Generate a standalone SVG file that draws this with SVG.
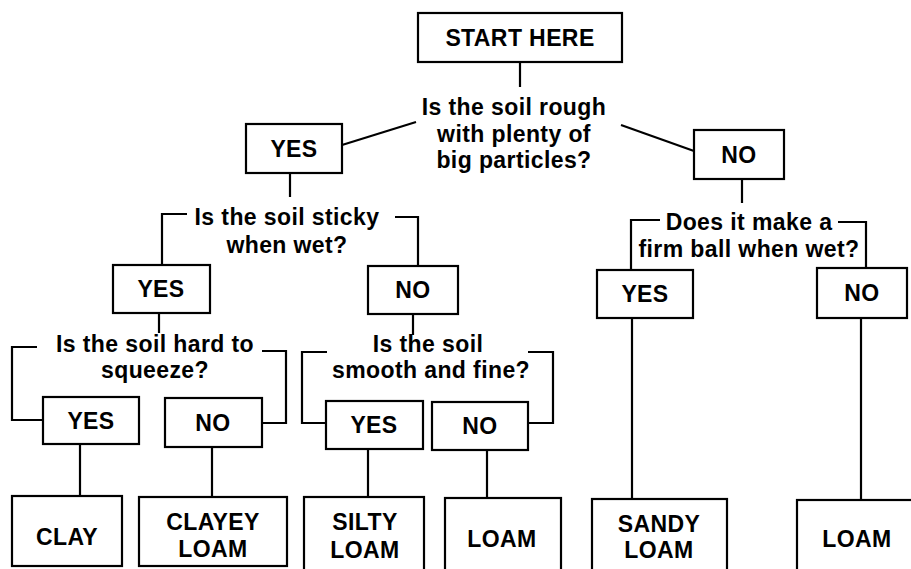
<svg xmlns="http://www.w3.org/2000/svg" width="911" height="569" viewBox="0 0 911 569">
<style>
.box{fill:#fff;stroke:#000;stroke-width:2.2}
.ln{fill:none;stroke:#000;stroke-width:2.2}
text{font-family:"Liberation Sans",Arial,sans-serif;font-weight:bold;font-size:23px;letter-spacing:0.4px;fill:#000;text-anchor:middle}
</style>
<rect width="911" height="569" fill="#fff"/>
<g id="connectors">
<path class="ln" d="M520 62V87"/>
<path class="ln" d="M342 145L416 122"/>
<path class="ln" d="M621 125L694 151"/>
<path class="ln" d="M290 173V197"/>
<path class="ln" d="M742 179V203"/>
<path class="ln" d="M187 214H162V265"/>
<path class="ln" d="M395 217H418V266"/>
<path class="ln" d="M660 220H631V270"/>
<path class="ln" d="M838 222H866V268"/>
<path class="ln" d="M159 313V333"/>
<path class="ln" d="M413 314V335"/>
<path class="ln" d="M37 347H12V420H43"/>
<path class="ln" d="M262 351H286V423H262"/>
<path class="ln" d="M327 352H302V423H326"/>
<path class="ln" d="M528 352H553V423H528"/>
<path class="ln" d="M80 444V496"/>
<path class="ln" d="M212 447V497"/>
<path class="ln" d="M368 449V497"/>
<path class="ln" d="M487 450V498"/>
<path class="ln" d="M632 318V499"/>
<path class="ln" d="M861 318V500"/>
</g>
<g id="start"><rect class="box" x="418" y="13" width="204" height="49"/><text x="520" y="46">START HERE</text></g>
<g id="q1"><text x="514" y="115">Is the soil rough</text><text x="514" y="142">with plenty of</text><text x="514" y="168">big particles?</text></g>
<g id="yes1"><rect class="box" x="246" y="124" width="96" height="49"/><text x="294" y="157">YES</text></g>
<g id="no1"><rect class="box" x="694" y="130" width="90" height="49"/><text x="739" y="163">NO</text></g>
<g id="q2"><text x="287" y="225">Is the soil sticky</text><text x="287" y="253">when wet?</text></g>
<g id="q5"><text x="749" y="230">Does it make a</text><text x="749" y="257">firm ball when wet?</text></g>
<g id="yes2"><rect class="box" x="113" y="265" width="97" height="48"/><text x="161" y="297">YES</text></g>
<g id="no2"><rect class="box" x="368" y="266" width="90" height="48"/><text x="413" y="298">NO</text></g>
<g id="yes5"><rect class="box" x="597" y="270" width="96" height="48"/><text x="645" y="302">YES</text></g>
<g id="no5"><rect class="box" x="817" y="268" width="90" height="50"/><text x="862" y="301">NO</text></g>
<g id="q3"><text x="155" y="352">Is the soil hard to</text><text x="155" y="378">squeeze?</text></g>
<g id="q4"><text x="428" y="352">Is the soil</text><text x="431" y="378">smooth and fine?</text></g>
<g id="yes3"><rect class="box" x="43" y="397" width="96" height="47"/><text x="91" y="429">YES</text></g>
<g id="no3"><rect class="box" x="165" y="398" width="97" height="49"/><text x="213" y="431">NO</text></g>
<g id="yes4"><rect class="box" x="326" y="401" width="97" height="48"/><text x="374" y="433">YES</text></g>
<g id="no4"><rect class="box" x="432" y="402" width="96" height="48"/><text x="480" y="434">NO</text></g>
<g id="clay"><rect class="box" x="12" y="496" width="110" height="70"/><text x="67" y="545">CLAY</text></g>
<g id="clayey-loam"><rect class="box" x="139" y="497" width="148" height="69"/><text x="213" y="530">CLAYEY</text><text x="213" y="557">LOAM</text></g>
<g id="silty-loam"><rect class="box" x="304" y="497" width="120" height="80"/><text x="365" y="530">SILTY</text><text x="365" y="558">LOAM</text></g>
<g id="loam1"><rect class="box" x="445" y="498" width="116" height="80"/><text x="502" y="547">LOAM</text></g>
<g id="sandy-loam"><rect class="box" x="592" y="499" width="135" height="80"/><text x="659" y="532">SANDY</text><text x="659" y="558">LOAM</text></g>
<g id="loam2"><rect class="box" x="797" y="500" width="120" height="80"/><text x="857" y="547">LOAM</text></g>
</svg>
